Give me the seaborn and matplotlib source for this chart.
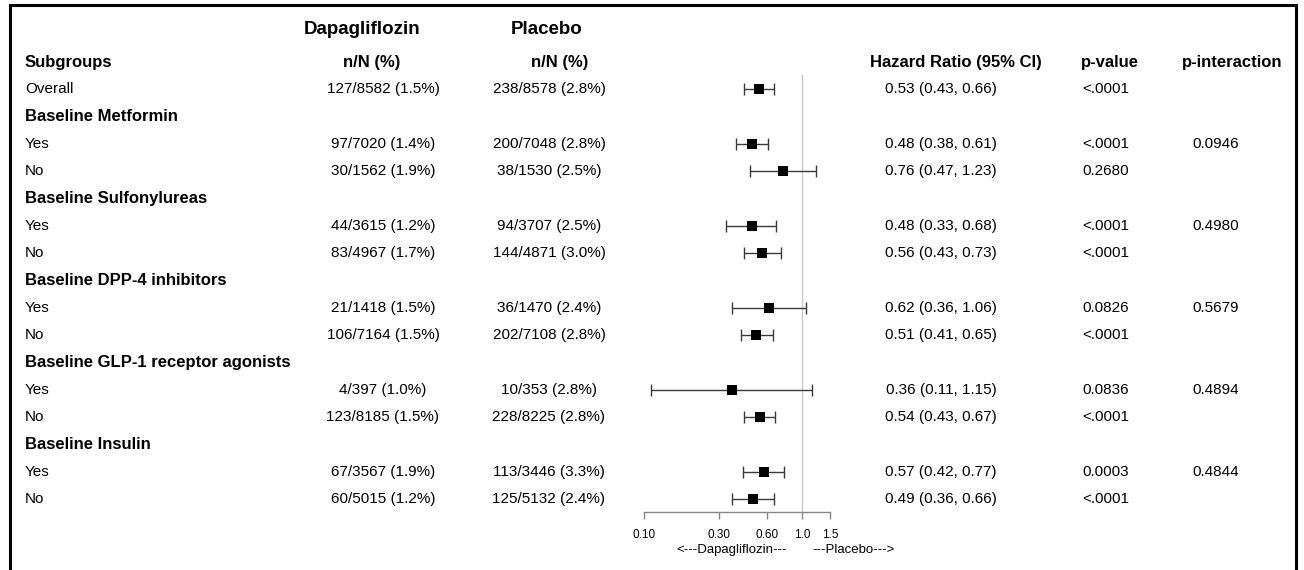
import numpy as np
import pandas as pd
import matplotlib
matplotlib.use("Agg")
import matplotlib.pyplot as plt
import seaborn as sns
from matplotlib.ticker import NullLocator, FixedLocator, FixedFormatter

# rows of the table (label, is it a group header)
row_labels = ["Overall",
              "Baseline Metformin", "Yes", "No",
              "Baseline Sulfonylureas", "Yes", "No",
              "Baseline DPP-4 inhibitors", "Yes", "No",
              "Baseline GLP-1 receptor agonists", "Yes", "No",
              "Baseline Insulin", "Yes", "No"]
row_is_header = [False, True, False, False, True, False, False, True, False, False,
                 True, False, False, True, False, False]

# data rows only (skip group headers)
dapa_n = [127, 97, 30, 44, 83, 21, 106, 4, 123, 67, 60]
dapa_N = [8582, 7020, 1562, 3615, 4967, 1418, 7164, 397, 8185, 3567, 5015]
dapa_pct = [1.5, 1.4, 1.9, 1.2, 1.7, 1.5, 1.5, 1.0, 1.5, 1.9, 1.2]
pbo_n = [238, 200, 38, 94, 144, 36, 202, 10, 228, 113, 125]
pbo_N = [8578, 7048, 1530, 3707, 4871, 1470, 7108, 353, 8225, 3446, 5132]
pbo_pct = [2.8, 2.8, 2.5, 2.5, 3.0, 2.4, 2.8, 2.8, 2.8, 3.3, 2.4]
hr = [0.53, 0.48, 0.76, 0.48, 0.56, 0.62, 0.51, 0.36, 0.54, 0.57, 0.49]
hr_lo = [0.43, 0.38, 0.47, 0.33, 0.43, 0.36, 0.41, 0.11, 0.43, 0.42, 0.36]
hr_hi = [0.66, 0.61, 1.23, 0.68, 0.73, 1.06, 0.65, 1.15, 0.67, 0.77, 0.66]
p_value = ["<.0001", "<.0001", "0.2680", "<.0001", "<.0001", "0.0826", "<.0001",
           "0.0836", "<.0001", "0.0003", "<.0001"]
p_inter = ["", "0.0946", "", "0.4980", "", "0.5679", "", "0.4894", "", "0.4844", ""]

x_ticks = [0.10, 0.30, 0.60, 1.0, 1.5]
x_ticklabels = ["0.10", "0.30", "0.60", "1.0", "1.5"]

sns.set_theme(style="white")
plt.rcParams["font.family"] = ["Liberation Sans", "DejaVu Sans"]
plt.rcParams["text.color"] = "black"

W, H = 1304, 570
fig = plt.figure(figsize=(W / 100, H / 100), dpi=100)

# text layer in pixel coords
ax_t = fig.add_axes([0, 0, 1, 1])
ax_t.set_xlim(0, W)
ax_t.set_ylim(H, 0)
ax_t.axis("off")

# frame (bottom edge is cut off)
ax_t.plot([10, 10, 1296, 1296], [H + 5, 5, 5, H + 5], color="black", lw=2.2,
          solid_joinstyle="miter")

row_y = [89 + 27.33 * i for i in range(len(row_labels))]
data_y = [y for y, h in zip(row_y, row_is_header) if not h]

# headers
ax_t.text(362, 30, "Dapagliflozin", ha="center", va="center", fontsize=13.5, fontweight="bold")
ax_t.text(547, 30, "Placebo", ha="center", va="center", fontsize=13.5, fontweight="bold")
hdr = dict(va="center", fontsize=12, fontweight="bold")
ax_t.text(25, 62, "Subgroups", ha="left", **hdr)
ax_t.text(372, 62, "n/N (%)", ha="center", **hdr)
ax_t.text(560, 62, "n/N (%)", ha="center", **hdr)
ax_t.text(956, 62, "Hazard Ratio (95% CI)", ha="center", **hdr)
ax_t.text(1110, 62, "p-value", ha="center", **hdr)
ax_t.text(1232, 62, "p-interaction", ha="center", **hdr)

for y, lab, h in zip(row_y, row_labels, row_is_header):
    if h:
        ax_t.text(25, y, lab, ha="left", va="center", fontsize=12, fontweight="bold")
    else:
        ax_t.text(25, y, lab, ha="left", va="center", fontsize=11)

for i, y in enumerate(data_y):
    ax_t.text(383, y, f"{dapa_n[i]}/{dapa_N[i]} ({dapa_pct[i]:.1f}%)", ha="center", va="center", fontsize=11)
    ax_t.text(549, y, f"{pbo_n[i]}/{pbo_N[i]} ({pbo_pct[i]:.1f}%)", ha="center", va="center", fontsize=11)
    ax_t.text(941, y, f"{hr[i]:.2f} ({hr_lo[i]:.2f}, {hr_hi[i]:.2f})", ha="center", va="center", fontsize=11)
    ax_t.text(1082, y, p_value[i], ha="left", va="center", fontsize=11)
    if p_inter[i]:
        ax_t.text(1216, y, p_inter[i], ha="center", va="center", fontsize=11)

ax_t.text(732, 550, "<---Dapagliflozin---", ha="center", va="center", fontsize=9.5)
ax_t.text(854, 550, "---Placebo--->", ha="center", va="center", fontsize=9.5)

# forest plot axes, y in the same pixel units as the table
fx0, fx1, fy0, fy1 = 644, 830, 60, 512
ax_f = fig.add_axes([fx0 / W, 1 - fy1 / H, (fx1 - fx0) / W, (fy1 - fy0) / H])
ax_f.patch.set_alpha(0)
ax_f.set_xscale("log")
ax_f.set_xlim(0.1, 1.5)
ax_f.set_ylim(fy1, fy0)

df = pd.DataFrame({"hr": hr, "lo": hr_lo, "hi": hr_hi, "y": data_y})
ax_f.plot([1, 1], [75, fy1], color="#c8c8c8", lw=1, zorder=1)
ax_f.errorbar(df["hr"], df["y"], xerr=[df["hr"] - df["lo"], df["hi"] - df["hr"]],
              fmt="none", ecolor="#3a3a3a", elinewidth=1, capsize=4, capthick=1, zorder=2)
sns.scatterplot(data=df, x="hr", y="y", marker="s", color="black", s=42,
                linewidth=0, legend=False, ax=ax_f, zorder=3)

for s in ["top", "right", "left"]:
    ax_f.spines[s].set_visible(False)
ax_f.spines["bottom"].set_color("#888888")
ax_f.spines["bottom"].set_linewidth(1)
ax_f.xaxis.set_major_locator(FixedLocator(x_ticks))
ax_f.xaxis.set_major_formatter(FixedFormatter(x_ticklabels))
ax_f.xaxis.set_minor_locator(NullLocator())
ax_f.set_yticks([])
ax_f.set_xlabel("")
ax_f.set_ylabel("")
ax_f.tick_params(axis="x", length=5, width=1, color="#888888", labelsize=8.5, pad=7,
                 labelcolor="black", bottom=True)

fig.savefig("out.png", dpi=100)
